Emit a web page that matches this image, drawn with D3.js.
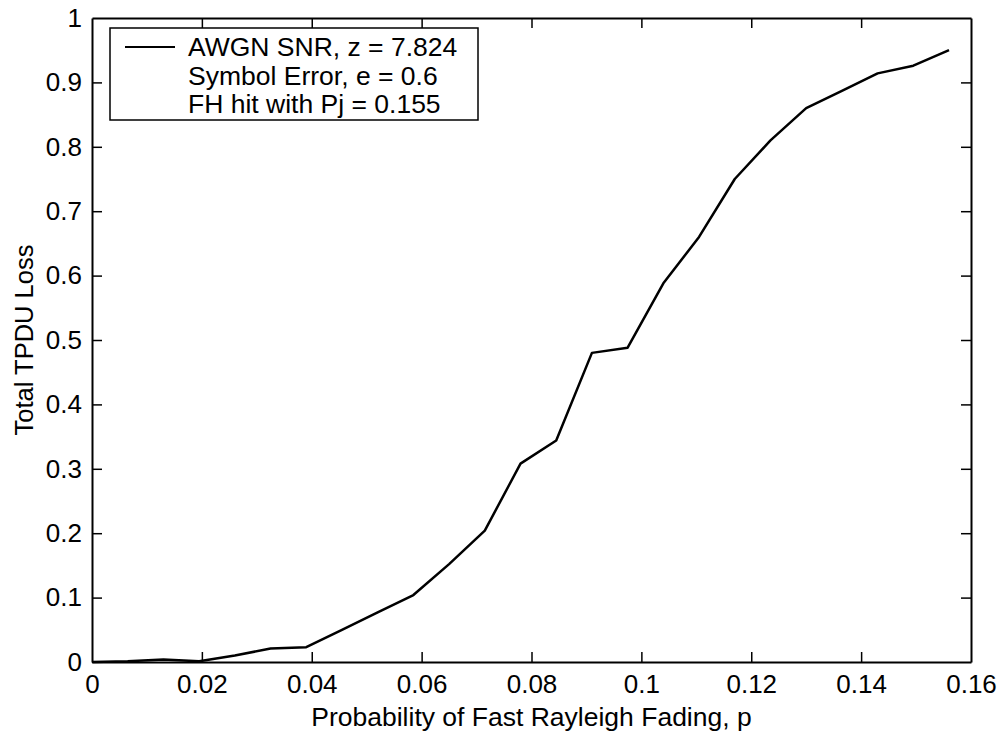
<!DOCTYPE html>
<html>
<head>
<meta charset="utf-8">
<script src="https://cdn.jsdelivr.net/npm/d3@7"></script>
<style>
  body { margin: 0; background: #fff; }
  svg { display: block; font-family: "Liberation Sans", Arial, sans-serif; }
</style>
</head>
<body>
<svg id="chart" width="1001" height="738"></svg>
<script>
// data
const pValues = [0, 0.0065, 0.013, 0.0195, 0.026, 0.0325, 0.039, 0.0455, 0.052, 0.0585,
  0.065, 0.0715, 0.078, 0.0845, 0.091, 0.0975, 0.104, 0.1105, 0.117, 0.1235,
  0.13, 0.1365, 0.143, 0.1495, 0.156];
const lossValues = [0, 0.001, 0.004, 0.001, 0.01, 0.021, 0.023, 0.05, 0.077, 0.104,
  0.152, 0.204, 0.308, 0.344, 0.48, 0.488, 0.588, 0.66, 0.75, 0.81,
  0.86, 0.887, 0.914, 0.926, 0.95];
const xTicks = [0, 0.02, 0.04, 0.06, 0.08, 0.1, 0.12, 0.14, 0.16];
const yTicks = [0, 0.1, 0.2, 0.3, 0.4, 0.5, 0.6, 0.7, 0.8, 0.9, 1];
const legendLines = ['AWGN SNR, z = 7.824', 'Symbol Error, e = 0.6', 'FH hit with Pj = 0.155'];

const margin = { left: 92, right: 30, top: 18, bottom: 76 };
const width = 1001, height = 738;

const svg = d3.select('#chart');

const x = d3.scaleLinear().domain([0, 0.16]).range([margin.left, width - margin.right]);
const y = d3.scaleLinear().domain([0, 1]).range([height - margin.bottom, margin.top]);

const fmt = d => d === 0 ? '0' : String(d);

// bottom axis, ticks pointing in
svg.append('g')
  .attr('transform', `translate(0,${y(0)})`)
  .call(d3.axisBottom(x).tickValues(xTicks).tickFormat(fmt).tickSizeInner(-10).tickSizeOuter(0).tickPadding(13));
// top axis
svg.append('g')
  .attr('transform', `translate(0,${y(1)})`)
  .call(d3.axisTop(x).tickValues(xTicks).tickFormat('').tickSizeInner(-10).tickSizeOuter(0));
// left axis
svg.append('g')
  .attr('transform', `translate(${x(0)},0)`)
  .call(d3.axisLeft(y).tickValues(yTicks).tickFormat(fmt).tickSizeInner(-10).tickSizeOuter(0).tickPadding(10));
// right axis
svg.append('g')
  .attr('transform', `translate(${x(0.16)},0)`)
  .call(d3.axisRight(y).tickValues(yTicks).tickFormat('').tickSizeInner(-10).tickSizeOuter(0));

svg.selectAll('.domain').attr('stroke', '#000').attr('stroke-width', 2);
svg.selectAll('.tick line').attr('stroke', '#000').attr('stroke-width', 1.5);
svg.selectAll('.tick text').attr('fill', '#000').style('font-size', '26px');
// hide end ticks that fall on the box edges
svg.selectAll('.tick').filter(d => d === 0 || d === 1 || d === 0.16).select('line').remove();

// curve
const line = d3.line()
  .x((d, i) => x(pValues[i]))
  .y(d => y(d));

svg.append('path')
  .datum(lossValues)
  .attr('d', line)
  .attr('fill', 'none')
  .attr('stroke', '#000')
  .attr('stroke-width', 2.5)
  .attr('stroke-linejoin', 'round');

// legend
const legend = svg.append('g');
legend.append('rect')
  .attr('x', 110).attr('y', 28)
  .attr('width', 368).attr('height', 92)
  .attr('fill', '#fff').attr('stroke', '#000').attr('stroke-width', 1.5);
legend.append('line')
  .attr('x1', 125).attr('x2', 175).attr('y1', 47).attr('y2', 47)
  .attr('stroke', '#000').attr('stroke-width', 2);
legend.selectAll('text.leg')
  .data(legendLines)
  .enter()
  .append('text')
  .attr('class', 'leg')
  .attr('x', 188)
  .attr('y', (d, i) => 56 + i * 28.5)
  .style('font-size', '26.5px')
  .text(d => d);

// axis titles
svg.append('text')
  .attr('x', (x(0) + x(0.16)) / 2)
  .attr('y', 726)
  .attr('text-anchor', 'middle')
  .style('font-size', '26.5px')
  .text('Probability of Fast Rayleigh Fading, p');

svg.append('text')
  .attr('transform', `translate(33,${(y(0) + y(1)) / 2}) rotate(-90)`)
  .attr('text-anchor', 'middle')
  .style('font-size', '25.5px')
  .text('Total TPDU Loss');
</script>
</body>
</html>
